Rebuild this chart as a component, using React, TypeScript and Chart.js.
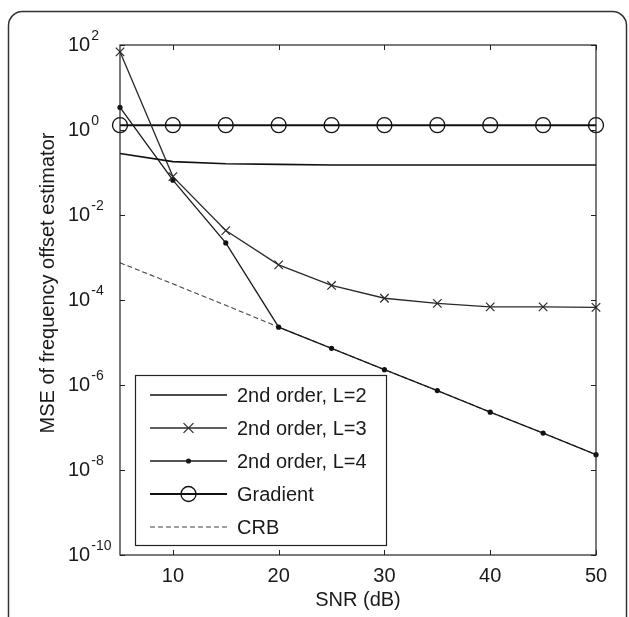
import React, { useEffect, useRef } from "react";
import { Chart, registerables } from "chart.js";

Chart.register(...registerables);

const snr = [5, 10, 15, 20, 25, 30, 35, 40, 45, 50];
const mseL2 = [0.28, 0.18, 0.16, 0.155, 0.15, 0.15, 0.15, 0.15, 0.15, 0.15];
const mseL3 = [69, 0.08, 0.0043, 6.7e-4, 2.2e-4, 1.1e-4, 8.3e-5, 6.9e-5, 6.9e-5, 6.7e-5];
const mseL4 = [3.4, 0.066, 0.0022, 2.3e-5, 7.3e-6, 2.3e-6, 7.4e-7, 2.3e-7, 7.4e-8, 2.3e-8];
const mseGradient = [1.3, 1.3, 1.3, 1.3, 1.3, 1.3, 1.3, 1.3, 1.3, 1.3];
const crb = [7.5e-4, 2.4e-4, 7.5e-5, 2.3e-5, 7.3e-6, 2.3e-6, 7.4e-7, 2.3e-7, 7.4e-8, 2.3e-8];

const seriesLabels = ["2nd order, L=2", "2nd order, L=3", "2nd order, L=4", "Gradient", "CRB"];
const xTickValues = [10, 20, 30, 40, 50];
const xTickLabels = ["10", "20", "30", "40", "50"];
const yTickValues = [1e2, 1, 1e-2, 1e-4, 1e-6, 1e-8, 1e-10];
const yTickExponents = ["2", "0", "-2", "-4", "-6", "-8", "-10"];
const xTitle = "SNR (dB)";
const yTitle = "MSE of frequency offset estimator";

const FONT = "'Liberation Sans', Arial, sans-serif";

function drawMarker(ctx: CanvasRenderingContext2D, style: string, x: number, y: number, r: number, color: string, lw: number) {
  ctx.save();
  ctx.strokeStyle = color;
  ctx.fillStyle = color;
  ctx.lineWidth = lw;
  if (style === "crossRot") {
    const d = r * 0.7071 * 1.4;
    ctx.beginPath();
    ctx.moveTo(x - d, y - d);
    ctx.lineTo(x + d, y + d);
    ctx.moveTo(x - d, y + d);
    ctx.lineTo(x + d, y - d);
    ctx.stroke();
  } else if (style === "dot") {
    ctx.beginPath();
    ctx.arc(x, y, r, 0, Math.PI * 2);
    ctx.fill();
  } else if (style === "ring") {
    ctx.beginPath();
    ctx.arc(x, y, r, 0, Math.PI * 2);
    ctx.stroke();
  }
  ctx.restore();
}

const decorPlugin = {
  id: "decor",
  afterDraw(chart: any) {
    const ctx: CanvasRenderingContext2D = chart.ctx;
    const { left, right, top, bottom } = chart.chartArea;
    const xs = chart.scales.x;
    const ys = chart.scales.y;
    ctx.save();

    // outer rounded frame
    ctx.strokeStyle = "#333";
    ctx.lineWidth = 1.5;
    ctx.beginPath();
    (ctx as any).roundRect(8.5, 11.5, 618, 640, 14);
    ctx.stroke();

    // axes box
    ctx.strokeStyle = "#222";
    ctx.lineWidth = 1.2;
    ctx.strokeRect(left, top, right - left, bottom - top);

    // ticks (inward)
    ctx.lineWidth = 1;
    ctx.beginPath();
    xs.ticks.forEach((t: any) => {
      const px = Math.round(xs.getPixelForValue(t.value)) + 0.5;
      ctx.moveTo(px, bottom);
      ctx.lineTo(px, bottom - 5);
      ctx.moveTo(px, top);
      ctx.lineTo(px, top + 5);
    });
    ys.ticks.forEach((t: any) => {
      const py = Math.round(ys.getPixelForValue(t.value)) + 0.5;
      ctx.moveTo(left, py);
      ctx.lineTo(left + 5, py);
      ctx.moveTo(right, py);
      ctx.lineTo(right - 5, py);
    });
    ctx.stroke();

    // x tick labels
    ctx.fillStyle = "#1a1a1a";
    ctx.font = `20px ${FONT}`;
    ctx.textAlign = "center";
    ctx.textBaseline = "middle";
    xs.ticks.forEach((t: any, i: number) => {
      const px = xs.getPixelForValue(t.value);
      ctx.fillText(xTickLabels[i], px, bottom + 21);
    });

    // y tick labels 10^k
    ys.ticks.forEach((t: any, i: number) => {
      const py = ys.getPixelForValue(t.value);
      ctx.font = `20px ${FONT}`;
      ctx.textAlign = "left";
      ctx.textBaseline = "middle";
      ctx.fillText("10", 68, py);
      const w = ctx.measureText("10").width;
      ctx.font = `14px ${FONT}`;
      ctx.textBaseline = "alphabetic";
      ctx.fillText(yTickExponents[i], 68 + w + 1, py - 5);
    });

    // axis titles
    ctx.font = `20px ${FONT}`;
    ctx.textAlign = "center";
    ctx.textBaseline = "middle";
    ctx.fillText(xTitle, (left + right) / 2, 600);
    ctx.save();
    ctx.translate(48, 283);
    ctx.rotate(-Math.PI / 2);
    ctx.fillText(yTitle, 0, 0);
    ctx.restore();

    // legend
    const lx = 135.5, ly = 375.5, lw = 251, lh = 170;
    ctx.fillStyle = "#fff";
    ctx.fillRect(lx, ly, lw, lh);
    ctx.strokeStyle = "#222";
    ctx.lineWidth = 1.2;
    ctx.strokeRect(lx, ly, lw, lh);
    const rowY = [395, 428, 461, 494, 527];
    chart.data.datasets.forEach((ds: any, i: number) => {
      const y = rowY[i];
      ctx.save();
      ctx.strokeStyle = ds.borderColor;
      ctx.lineWidth = ds.borderWidth;
      ctx.setLineDash(ds.borderDash || []);
      ctx.beginPath();
      ctx.moveTo(150, y);
      ctx.lineTo(227, y);
      ctx.stroke();
      ctx.restore();
      if (ds.legendMarker) {
        drawMarker(ctx, ds.legendMarker, 188.5, y, ds.legendMarkerRadius, ds.borderColor, ds.legendMarkerWidth);
      }
      ctx.fillStyle = "#1a1a1a";
      ctx.font = `20px ${FONT}`;
      ctx.textAlign = "left";
      ctx.textBaseline = "middle";
      ctx.fillText(ds.label, 237, y + 1);
    });

    ctx.restore();
  },
};

export default function App() {
  const ref = useRef<HTMLCanvasElement | null>(null);
  useEffect(() => {
    if (!ref.current) return;
    const mk = (arr: number[]) => arr.map((v, i) => ({ x: snr[i], y: v }));
    const chart = new Chart(ref.current, {
      type: "line",
      data: {
        datasets: [
          {
            label: seriesLabels[0],
            data: mk(mseL2),
            borderColor: "#111",
            borderWidth: 1.6,
            pointRadius: 0,
            clip: false,
          } as any,
          {
            label: seriesLabels[1],
            data: mk(mseL3),
            borderColor: "#2a2a2a",
            borderWidth: 1.3,
            pointStyle: "crossRot",
            pointRadius: 6,
            pointBorderWidth: 1.2,
            pointBackgroundColor: "transparent",
            pointBorderColor: "#2a2a2a",
            clip: false,
            legendMarker: "crossRot",
            legendMarkerRadius: 5,
            legendMarkerWidth: 1.2,
          },
          {
            label: seriesLabels[2],
            data: mk(mseL4),
            borderColor: "#1a1a1a",
            borderWidth: 1.3,
            pointStyle: "circle",
            pointRadius: 2.6,
            pointBorderWidth: 0,
            pointBackgroundColor: "#111",
            clip: false,
            legendMarker: "dot",
            legendMarkerRadius: 2.6,
            legendMarkerWidth: 1,
          },
          {
            label: seriesLabels[3],
            data: mk(mseGradient),
            borderColor: "#111",
            borderWidth: 2,
            pointStyle: "circle",
            pointRadius: 7.5,
            pointBorderWidth: 1.3,
            pointBackgroundColor: "transparent",
            pointBorderColor: "#111",
            clip: false,
            legendMarker: "ring",
            legendMarkerRadius: 7.5,
            legendMarkerWidth: 1.3,
          },
          {
            label: seriesLabels[4],
            data: mk(crb),
            borderColor: "#444",
            borderWidth: 1.1,
            borderDash: [5, 3],
            pointRadius: 0,
            clip: false,
          },
        ] as any,
      },
      options: {
        responsive: false,
        animation: false,
        devicePixelRatio: 1,
        layout: { padding: { top: 45, right: 33, left: 0, bottom: 0 } },
        plugins: { legend: { display: false }, tooltip: { enabled: false } },
        elements: { line: { tension: 0 } },
        scales: {
          x: {
            type: "linear",
            min: 5,
            max: 50,
            grid: { display: false },
            border: { display: false },
            ticks: { display: false },
            afterBuildTicks: (s: any) => {
              s.ticks = xTickValues.map((v) => ({ value: v }));
            },
            afterFit: (s: any) => {
              s.height = 62;
            },
          },
          y: {
            type: "logarithmic",
            min: 1e-10,
            max: 1e2,
            grid: { display: false },
            border: { display: false },
            ticks: { display: false },
            afterBuildTicks: (s: any) => {
              s.ticks = yTickValues.map((v) => ({ value: v }));
            },
            afterFit: (s: any) => {
              s.width = 120;
            },
          },
        },
      } as any,
      plugins: [decorPlugin],
    });
    return () => chart.destroy();
  }, []);
  return (
    <div style={{ position: "absolute", left: 0, top: 0, width: 629, height: 617, background: "#fff" }}>
      <canvas ref={ref} width={629} height={617} style={{ display: "block", width: 629, height: 617 }} />
    </div>
  );
}
